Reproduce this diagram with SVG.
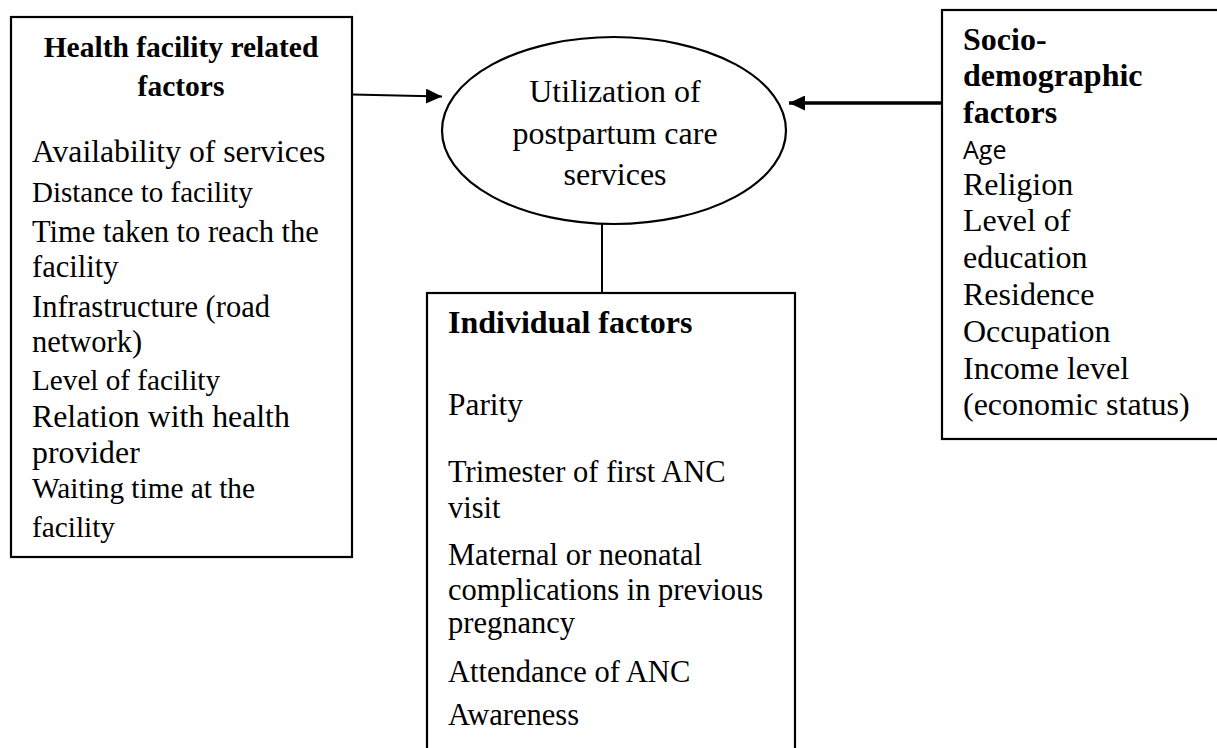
<svg xmlns="http://www.w3.org/2000/svg" width="1217" height="748" viewBox="0 0 1217 748">
<style>
.box{fill:#fff;stroke:#000;stroke-width:2.2}
.t{font-family:"Liberation Serif","Times New Roman",serif;fill:#000}
.b{font-weight:bold}
.s{font-family:"Open Sans","Liberation Sans",sans-serif;fill:#000}
.c{fill:none;stroke:#000}
</style>
<defs>
<marker id="ah" viewBox="0 0 16 15" refX="16" refY="7.5" markerWidth="16" markerHeight="15" markerUnits="userSpaceOnUse" orient="auto">
<path d="M0,0 L16,7.5 L0,15 Z" fill="#000"/>
</marker>
</defs>
<rect width="1217" height="748" fill="#fff"/>
<g id="connectors">
<line class="c" x1="352" y1="94.5" x2="442" y2="96.5" stroke-width="1.8" marker-end="url(#ah)"/>
<line class="c" x1="942" y1="103" x2="789" y2="103" stroke-width="3.5" marker-end="url(#ah)"/>
<line class="c" x1="602" y1="224" x2="602" y2="293" stroke-width="2"/>
</g>
<g id="health">
<rect class="box" x="11" y="17" width="341" height="540"/>
<text class="t b" font-size="29.5" x="181" y="57" text-anchor="middle">Health facility related</text>
<text class="t b" font-size="29.5" x="181" y="96" text-anchor="middle">factors</text>
<text class="t" font-size="31.7" x="32" y="162">Availability of services</text>
<text class="t" font-size="29" x="32" y="202">Distance to facility</text>
<text class="t" font-size="30.5" x="32" y="242">Time taken to reach the</text>
<text class="t" font-size="30.5" x="32" y="277">facility</text>
<text class="t" font-size="30.5" x="32" y="317">Infrastructure (road</text>
<text class="t" font-size="30.5" x="32" y="352">network)</text>
<text class="t" font-size="29.2" x="32" y="390">Level of facility</text>
<text class="t" font-size="31.8" x="32" y="427">Relation with health</text>
<text class="t" font-size="31.8" x="32" y="463">provider</text>
<text class="t" font-size="29.3" x="32" y="498">Waiting time at the</text>
<text class="t" font-size="29.3" x="32" y="537">facility</text>
</g>
<g id="utilization">
<ellipse class="box" cx="614" cy="130.5" rx="172" ry="93.5"/>
<text class="t" font-size="32" x="615" y="102" text-anchor="middle">Utilization of</text>
<text class="t" font-size="32" x="615" y="144" text-anchor="middle">postpartum care</text>
<text class="t" font-size="32" x="615" y="185" text-anchor="middle">services</text>
</g>
<g id="individual">
<rect class="box" x="427" y="293" width="368" height="480"/>
<text class="t b" font-size="32" x="448" y="333">Individual factors</text>
<text class="t" font-size="31.4" x="448" y="415">Parity</text>
<text class="t" font-size="30.5" x="448" y="482">Trimester of first ANC</text>
<text class="t" font-size="30.5" x="448" y="518">visit</text>
<text class="t" font-size="30.5" x="448" y="565">Maternal or neonatal</text>
<text class="t" font-size="30.5" x="448" y="600">complications in previous</text>
<text class="t" font-size="30.5" x="448" y="633">pregnancy</text>
<text class="t" font-size="30.5" x="448" y="682">Attendance of ANC</text>
<text class="t" font-size="30.5" x="448" y="725">Awareness</text>
</g>
<g id="socio">
<rect class="box" x="942" y="10" width="300" height="429"/>
<text class="t b" font-size="32" x="963" y="50">Socio-</text>
<text class="t b" font-size="32" x="963" y="86">demographic</text>
<text class="t b" font-size="32" x="963" y="123">factors</text>
<text class="s" font-size="25" x="963" y="159">Age</text>
<text class="t" font-size="32" x="963" y="195">Religion</text>
<text class="t" font-size="32" x="963" y="231">Level of</text>
<text class="t" font-size="32" x="963" y="268">education</text>
<text class="t" font-size="32" x="963" y="305">Residence</text>
<text class="t" font-size="32" x="963" y="342">Occupation</text>
<text class="t" font-size="32" x="963" y="379">Income level</text>
<text class="t" font-size="32" x="963" y="415">(economic status)</text>
</g>
</svg>
